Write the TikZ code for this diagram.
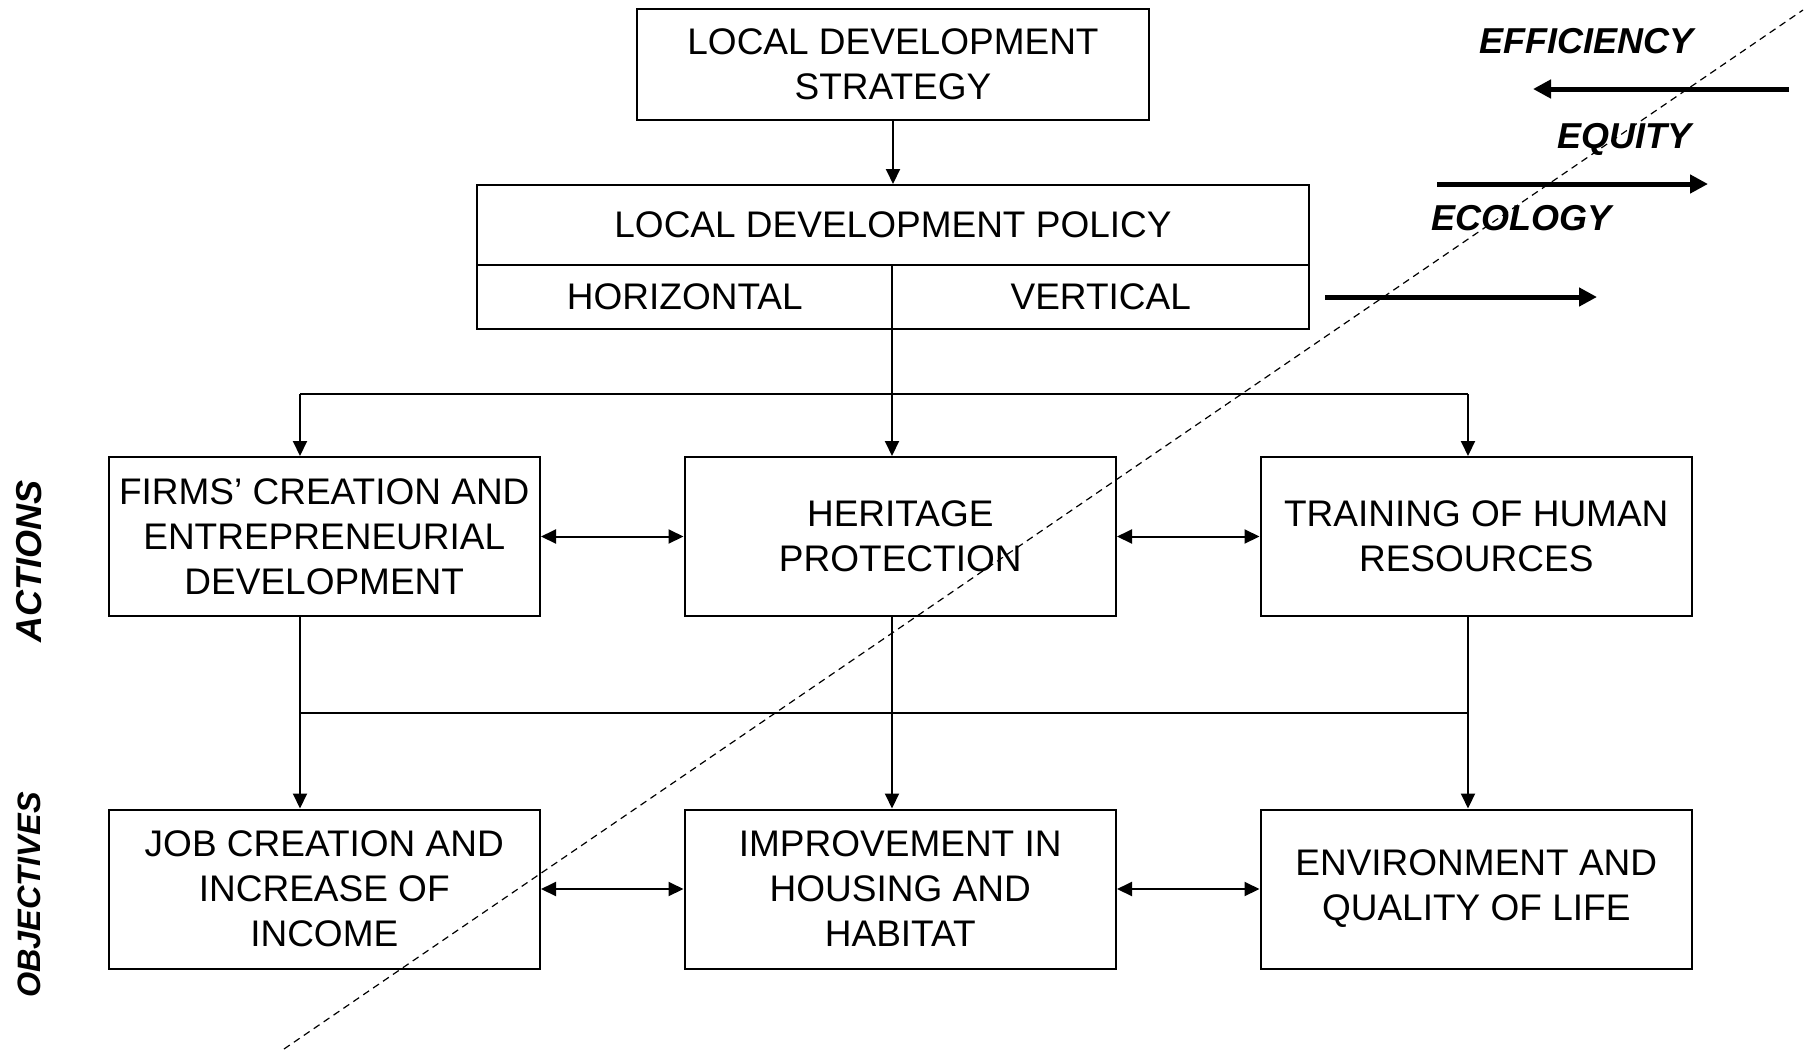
\documentclass[tikz,border=0pt]{standalone}
\usepackage{fontspec}
\setmainfont{Liberation Sans}
\usetikzlibrary{positioning}
\usetikzlibrary{arrows.meta}
\tikzset{
    box/.style = {rectangle, draw=black, line width=1pt, align=center, inner sep=0pt},
    edgen/.style = {-{Triangle[length=7.5pt,width=7pt]}, line width=1pt},
    edged/.style = {{Triangle[length=7.5pt,width=7pt]}-{Triangle[length=7.5pt,width=7pt]}, line width=1pt}, % both ways
    edgep/.style = {line width=1pt}, % plain branch
    edgek/.style = {-{Triangle[length=9pt,width=9pt]}, line width=2.5pt}, % thick
    diag/.style = {line width=0.6pt, dash pattern=on 3.5pt off 2.5pt},
    tag/.style = {font=\bfseries\itshape\fontsize{18}{22}\selectfont},
    every picture/.style={font issue=\fontsize{18.5}{22.5}\selectfont},
    font issue/.style={execute at begin picture={#1}}
}
\begin{document}
\begin{tikzpicture}[x=0.5pt, y=-0.5pt]
  \useasboundingbox (0,0) rectangle (1810,1050);

  % top of the chart
  \node[box, minimum width=256pt, minimum height=55.5pt] (strategy) at (893,64.5) {LOCAL DEVELOPMENT\\STRATEGY};
  \node[box, minimum width=416pt, minimum height=40pt] (policy) at (893,225) {LOCAL DEVELOPMENT POLICY};
  \node[box, minimum width=207.5pt, minimum height=32pt] (horiz) at (684.75,297) {HORIZONTAL};
  \node[box, minimum width=208.5pt, minimum height=32pt] (vert) at (1100.75,297) {VERTICAL};

  % actions
  \node[box, minimum width=215.75pt, minimum height=79.5pt] (firms) at (324.25,536.5) {FIRMS’ CREATION AND\\ENTREPRENEURIAL\\DEVELOPMENT};
  \node[box, minimum width=215.75pt, minimum height=79.5pt] (heritage) at (900.25,536.5) {HERITAGE\\PROTECTION};
  \node[box, minimum width=215.75pt, minimum height=79.5pt] (training) at (1476.25,536.5) {TRAINING OF HUMAN\\RESOURCES};

  % objectives
  \node[box, minimum width=215.75pt, minimum height=79.5pt] (job) at (324.25,889) {JOB CREATION AND\\INCREASE OF\\INCOME};
  \node[box, minimum width=215.75pt, minimum height=79.5pt] (housing) at (900.25,889) {IMPROVEMENT IN\\HOUSING AND\\HABITAT};
  \node[box, minimum width=215.75pt, minimum height=79.5pt] (environment) at (1476.25,889) {ENVIRONMENT AND\\QUALITY OF LIFE};

  \node[tag, rotate=90] (actions) at (29,561) {ACTIONS};
  \node[tag, rotate=90, font=\bfseries\itshape\fontsize{16.2}{20}\selectfont] (objectives) at (29,895) {OBJECTIVES};

  \node[tag] (efficiency) at (1586,41) {EFFICIENCY};
  \node[tag] (equity) at (1624,139) {EQUITY};
  \node[tag] (ecology) at (1521,218) {ECOLOGY};

  \coordinate (tl) at (300,394);
  \coordinate (tm) at (892,394);
  \coordinate (tr) at (1468,394);
  \coordinate (bl) at (300,713);
  \coordinate (bm) at (892,713);
  \coordinate (br) at (1468,713);

  \draw[edgen] (strategy) -- (policy);
  \draw[edgen] (tm |- horiz.south) -- (tm |- heritage.north);
  \draw[edgep] (tl) -- (tr);
  \draw[edgen] (tl) -- (tl |- firms.north);
  \draw[edgen] (tr) -- (tr |- training.north);

  \draw[edgen] (bl |- firms.south) -- (bl |- job.north);
  \draw[edgen] (bm |- heritage.south) -- (bm |- housing.north);
  \draw[edgen] (br |- training.south) -- (br |- environment.north);
  \draw[edgep] (bl) -- (br);

  \draw[edged] (firms) -- (heritage);
  \draw[edged] (heritage) -- (training);
  \draw[edged] (job) -- (housing);
  \draw[edged] (housing) -- (environment);

  % the three thick arrows
  \coordinate (effa) at (1789,89);
  \coordinate (effb) at (1533,89);
  \coordinate (equa) at (1437,184);
  \coordinate (equb) at (1708,184);
  \coordinate (ecoa) at (1325,297);
  \coordinate (ecob) at (1597,297);
  \draw[edgek] (effa) -- (effb);
  \draw[edgek] (equa) -- (equb);
  \draw[edgek] (ecoa) -- (ecob);

  \coordinate (da) at (284,1049);
  \coordinate (db) at (1803,10);
  \draw[diag] (da) -- (db);
\end{tikzpicture}
\end{document}
